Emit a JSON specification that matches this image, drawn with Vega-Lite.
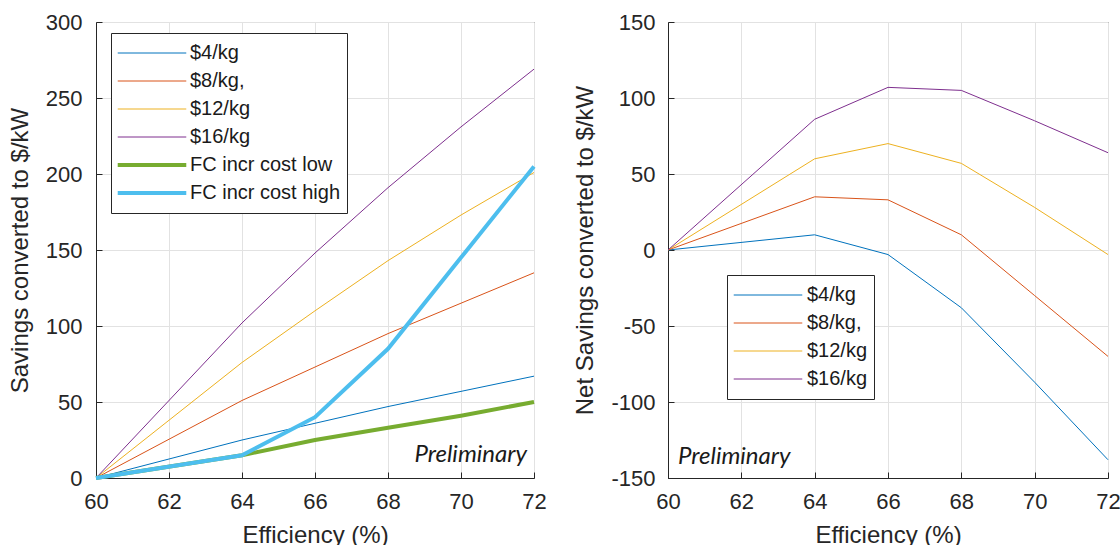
{
  "$schema": "https://vega.github.io/schema/vega-lite/v6.json",
  "background": "white",
  "padding": {"left": 7, "top": 10, "right": 5, "bottom": 0},
  "bounds": "flush",
  "spacing": 134,
  "datasets": {
    "savings": [
      {"series": "$4/kg", "eff": 60, "val": 0}, {"series": "$4/kg", "eff": 64, "val": 25}, {"series": "$4/kg", "eff": 66, "val": 36}, {"series": "$4/kg", "eff": 68, "val": 47}, {"series": "$4/kg", "eff": 70, "val": 57}, {"series": "$4/kg", "eff": 72, "val": 67},
      {"series": "$8/kg,", "eff": 60, "val": 0}, {"series": "$8/kg,", "eff": 64, "val": 51}, {"series": "$8/kg,", "eff": 66, "val": 73}, {"series": "$8/kg,", "eff": 68, "val": 95}, {"series": "$8/kg,", "eff": 70, "val": 115}, {"series": "$8/kg,", "eff": 72, "val": 135},
      {"series": "$12/kg", "eff": 60, "val": 0}, {"series": "$12/kg", "eff": 64, "val": 76}, {"series": "$12/kg", "eff": 66, "val": 110}, {"series": "$12/kg", "eff": 68, "val": 143}, {"series": "$12/kg", "eff": 70, "val": 173}, {"series": "$12/kg", "eff": 72, "val": 201},
      {"series": "$16/kg", "eff": 60, "val": 0}, {"series": "$16/kg", "eff": 64, "val": 102}, {"series": "$16/kg", "eff": 66, "val": 148}, {"series": "$16/kg", "eff": 68, "val": 191}, {"series": "$16/kg", "eff": 70, "val": 231}, {"series": "$16/kg", "eff": 72, "val": 269}
    ],
    "fccost": [
      {"series": "FC incr cost low", "eff": 60, "val": 0}, {"series": "FC incr cost low", "eff": 64, "val": 15}, {"series": "FC incr cost low", "eff": 66, "val": 25}, {"series": "FC incr cost low", "eff": 68, "val": 33}, {"series": "FC incr cost low", "eff": 70, "val": 41}, {"series": "FC incr cost low", "eff": 72, "val": 50},
      {"series": "FC incr cost high", "eff": 60, "val": 0}, {"series": "FC incr cost high", "eff": 64, "val": 15}, {"series": "FC incr cost high", "eff": 66, "val": 40}, {"series": "FC incr cost high", "eff": 68, "val": 85}, {"series": "FC incr cost high", "eff": 70, "val": 145}, {"series": "FC incr cost high", "eff": 72, "val": 205}
    ],
    "net": [
      {"series": "$4/kg", "eff": 60, "val": 0}, {"series": "$4/kg", "eff": 64, "val": 10}, {"series": "$4/kg", "eff": 66, "val": -3}, {"series": "$4/kg", "eff": 68, "val": -38}, {"series": "$4/kg", "eff": 70, "val": -87}, {"series": "$4/kg", "eff": 72, "val": -138},
      {"series": "$8/kg,", "eff": 60, "val": 0}, {"series": "$8/kg,", "eff": 64, "val": 35}, {"series": "$8/kg,", "eff": 66, "val": 33}, {"series": "$8/kg,", "eff": 68, "val": 10}, {"series": "$8/kg,", "eff": 70, "val": -30}, {"series": "$8/kg,", "eff": 72, "val": -70},
      {"series": "$12/kg", "eff": 60, "val": 0}, {"series": "$12/kg", "eff": 64, "val": 60}, {"series": "$12/kg", "eff": 66, "val": 70}, {"series": "$12/kg", "eff": 68, "val": 57}, {"series": "$12/kg", "eff": 70, "val": 28}, {"series": "$12/kg", "eff": 72, "val": -3},
      {"series": "$16/kg", "eff": 60, "val": 0}, {"series": "$16/kg", "eff": 64, "val": 86}, {"series": "$16/kg", "eff": 66, "val": 107}, {"series": "$16/kg", "eff": 68, "val": 105}, {"series": "$16/kg", "eff": 70, "val": 85}, {"series": "$16/kg", "eff": 72, "val": 64}
    ],
    "noteLeft": [{"eff": 72, "val": 0, "t": "Preliminary"}],
    "noteRight": [{"eff": 60, "val": -150, "t": "Preliminary"}]
  },
  "config": {
    "view": {"stroke": "#262626", "strokeWidth": 1},
    "axis": {
      "labelFont": "Liberation Sans", "labelFontSize": 22, "labelColor": "#262626", "labelFlush": false,
      "titleFont": "Liberation Sans", "titleFontSize": 24, "titleFontWeight": "normal", "titleColor": "#262626",
      "domainColor": "#262626", "tickColor": "#262626", "tickSize": -6,
      "gridColor": "#e2e2e2", "gridWidth": 1
    },
    "legend": {
      "labelFont": "Liberation Sans", "labelFontSize": 20, "labelColor": "#1a1a1a",
      "strokeColor": "#262626", "fillColor": "white", "padding": 6,
      "symbolType": "stroke", "symbolSize": 4700, "symbolStrokeWidth": 1, "labelOffset": 4, "rowPadding": 0, "clipHeight": 28
    }
  },
  "hconcat": [
    {
      "width": 438, "height": 456,
      "encoding": {
        "x": {"field": "eff", "type": "quantitative", "scale": {"domain": [60, 72], "nice": false},
              "axis": {"title": "Efficiency (%)", "values": [60, 62, 64, 66, 68, 70, 72], "labelPadding": 19, "titlePadding": 11, "grid": true}},
        "y": {"field": "val", "type": "quantitative", "scale": {"domain": [0, 300], "nice": false},
              "axis": {"title": "Savings converted to $/kW", "values": [0, 50, 100, 150, 200, 250, 300], "labelPadding": 20, "titlePadding": 13, "grid": true}}
      },
      "layer": [
        {
          "data": {"name": "savings"},
          "mark": {"type": "line", "strokeWidth": 1},
          "encoding": {
            "color": {"field": "series", "type": "nominal",
                      "scale": {"domain": ["$4/kg", "$8/kg,", "$12/kg", "$16/kg", "FC incr cost low", "FC incr cost high"],
                                "range": ["#0072BD", "#D95319", "#EDB120", "#7E2F8E", "#77AC30", "#4DBEEE"]},
                      "legend": {"title": null, "orient": "none", "legendX": 15, "legendY": 11,
                                 "encode": {
                                   "symbols": {"update": {"x": {"value": 35}, "strokeWidth": {"signal": "(datum.value === 'FC incr cost low' || datum.value === 'FC incr cost high') ? 4 : 1"}}},
                                   "labels": {"update": {"x": {"value": 73}}}
                                 }}}
          }
        },
        {
          "data": {"name": "fccost"},
          "mark": {"type": "line", "strokeWidth": 4},
          "encoding": {
            "color": {"field": "series", "type": "nominal"}
          }
        },
        {
          "data": {"name": "noteLeft"},
          "mark": {"type": "text", "font": "Lato", "fontStyle": "italic", "fontSize": 24, "align": "right", "baseline": "alphabetic", "dx": -7, "dy": -16, "color": "#1a1a1a"},
          "encoding": {
            "text": {"field": "t"}
          }
        }
      ]
    },
    {
      "width": 440, "height": 456,
      "encoding": {
        "x": {"field": "eff", "type": "quantitative", "scale": {"domain": [60, 72], "nice": false},
              "axis": {"title": "Efficiency (%)", "values": [60, 62, 64, 66, 68, 70, 72], "labelPadding": 19, "titlePadding": 11, "grid": true}},
        "y": {"field": "val", "type": "quantitative", "scale": {"domain": [-150, 150], "nice": false},
              "axis": {"title": "Net Savings converted to $/kW", "values": [-150, -100, -50, 0, 50, 100, 150], "labelExpr": "'' + datum.value", "labelPadding": 19, "titlePadding": 13, "grid": true}}
      },
      "layer": [
        {
          "data": {"name": "net"},
          "mark": {"type": "line", "strokeWidth": 1},
          "encoding": {
            "color": {"field": "series", "type": "nominal",
                      "scale": {"domain": ["$4/kg", "$8/kg,", "$12/kg", "$16/kg"],
                                "range": ["#0072BD", "#D95319", "#EDB120", "#7E2F8E"]},
                      "legend": {"title": null, "orient": "none", "legendX": 59, "legendY": 253,
                                 "encode": {
                                   "symbols": {"update": {"x": {"value": 35}}},
                                   "labels": {"update": {"x": {"value": 74}}}
                                 }}}
          }
        },
        {
          "data": {"name": "noteRight"},
          "mark": {"type": "text", "font": "Lato", "fontStyle": "italic", "fontSize": 24, "align": "left", "baseline": "alphabetic", "dx": 10, "dy": -14, "color": "#1a1a1a"},
          "encoding": {
            "text": {"field": "t"}
          }
        }
      ]
    }
  ],
  "resolve": {"scale": {"color": "independent", "x": "independent", "y": "independent"}, "legend": {"color": "independent"}}
}
